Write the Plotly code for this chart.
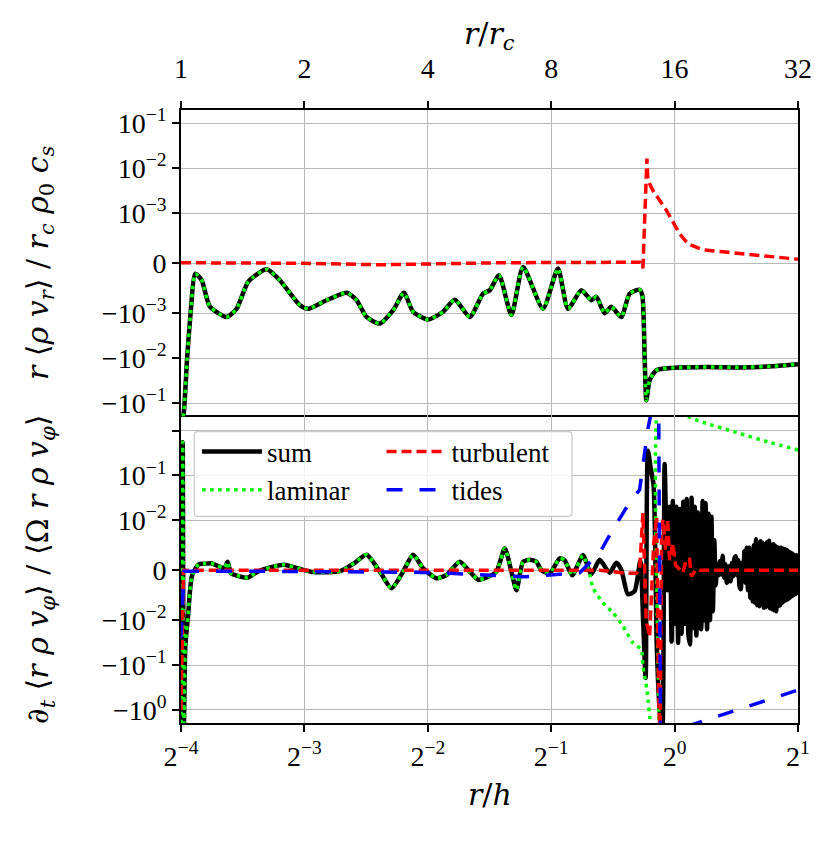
import numpy as np
import plotly.graph_objects as go

# ---- data (x in r/h, y in physical units) ----
# top panel: r <rho v_r> / r_c rho_0 c_s
top_x = [0.0625, 0.06345, 0.06464, 0.06585, 0.06773, 0.0702, 0.07354, 0.08078, 0.08543, 0.09119,
         0.1011, 0.1089, 0.1219, 0.1277, 0.1416, 0.1584, 0.1676, 0.1772, 0.191, 0.2058,
         0.2185, 0.2302, 0.2504, 0.2724, 0.2909, 0.3165, 0.341, 0.354, 0.373, 0.3999,
         0.4269, 0.4775, 0.5194, 0.5494, 0.5923, 0.6265, 0.6443, 0.675, 0.7009, 0.7413,
         0.7766, 0.8216, 0.8342, 0.8451, 0.8532, 0.8691, 0.9024, 0.9905, 1.1947, 1.4402,
         1.7363, 2.0]
top_sum = [-0.3, -0.167, -0.0111, -1.21e-3, -2.1e-4, -3.4e-4, -8.7e-4, -1.21e-3, -9.1e-4, -3.7e-4,
           -1.2e-4, -3.4e-4, -8.4e-4, -9.1e-4, -7.4e-4, -5.9e-4, -7.4e-4, -1.21e-3, -1.7e-3, -9.4e-4,
           -5.9e-4, -9.7e-4, -1.38e-3, -9.7e-4, -7.3e-4, -1.21e-3, -6.1e-4, -5.4e-4, -2.4e-4, -1.1e-3,
           -7.4e-5, -9.1e-4, -1.06e-4, -9.1e-4, -5.4e-4, -7.4e-4, -6.7e-4, -1.0e-3, -8.7e-4, -1.21e-3,
           -6.1e-4, -5.3e-4, -6.4e-4, -9.4e-3, -0.086, -0.031, -0.0185, -0.0164, -0.0156, -0.016,
           -0.0151, -0.0136]
top_turb_x = [0.0625, 0.1219, 0.191, 0.3745, 0.8216, 0.837, 0.856, 0.8608, 0.8853, 0.9545,
              0.9905, 1.0285, 1.0775, 1.1722, 1.3113, 1.5817, 1.9249, 2.0]
top_turb = [1e-5, 0, -3e-5, 1e-5, 2e-5, -1e-4, 0.0164, 5.4e-3, 3.2e-3, 1.17e-3,
            8.3e-4, 5.9e-4, 3.9e-4, 2.7e-4, 2.3e-4, 1.7e-4, 9e-5, 8e-5]

# bottom panel: d_t <r rho v_phi> / <Omega r rho v_phi>
bot_x_early = [0.0625, 0.0631, 0.06349, 0.06403, 0.06501, 0.06648, 0.06903, 0.07123, 0.07396, 0.07679,
               0.07969, 0.08122, 0.08274, 0.08591, 0.09088, 0.09612, 0.1036, 0.1116, 0.1203, 0.1296,
               0.1424, 0.1534, 0.1653, 0.1772, 0.191, 0.2039, 0.2176, 0.2302, 0.2435, 0.2625,
               0.2777, 0.2992, 0.3165, 0.3316, 0.3507, 0.3676, 0.3852, 0.3999, 0.4113, 0.4269,
               0.4431, 0.4601, 0.4732, 0.4958, 0.5245, 0.5393, 0.5626, 0.5978]
bot_early = [-3.0, 0.55, -3.0, -0.038, -9.2e-3, -1.1e-3, 1.2e-3, 1.3e-3, 1.4e-3, 9e-4,
             4e-4, 1.7e-3, -6e-4, -1.1e-3, -1.5e-3, -2.8e-4, 6e-4, 1.1e-3, 4e-4, -2.8e-4,
             -4e-4, -1.4e-4, 1.4e-3, 3.1e-3, -2.8e-4, -3.6e-3, -2.8e-4, 3.1e-3, 4e-4, -1.6e-3,
             -9.4e-4, 1.7e-3, -2.8e-4, -1.9e-3, -1.3e-3, -2.8e-4, 4.4e-3, -2.8e-4, -4e-3, 1.7e-3,
             2.1e-3, 1.7e-3, 0, -6e-4, 2.4e-3, 2e-3, -1e-3, 3e-3]

sum_x_late = [0.6265, 0.6565, 0.6943, 0.7208, 0.7413, 0.7693, 0.7987, 0.8248, 0.8379, 0.8499,
              0.8608, 0.874, 0.8888, 0.9041, 0.9193, 0.9333, 0.9454, 0.9615, 0.9723, 0.9833,
              0.99, 1.00, 1.01, 1.02, 1.03, 1.04, 1.05, 1.06, 1.07, 1.08,
              1.09, 1.10, 1.11, 1.12, 1.13, 1.14, 1.15, 1.16, 1.17, 1.18,
              1.19, 1.20, 1.21, 1.22, 1.23, 1.24, 1.25, 1.26, 1.27, 1.28,
              1.29, 1.30, 1.31, 1.32, 1.33, 1.34, 1.35, 1.36, 1.37, 1.38,
              1.39, 1.40, 1.41, 1.42, 1.43, 1.44, 1.45, 1.46, 1.47, 1.48,
              1.49, 1.50, 1.51, 1.52, 1.53, 1.54, 1.55, 1.56, 1.57, 1.58,
              1.59, 1.60, 1.61, 1.62, 1.63, 1.64, 1.65, 1.66, 1.67, 1.68,
              1.69, 1.70, 1.71, 1.72, 1.73, 1.74, 1.75, 1.76, 1.77, 1.78,
              1.79, 1.80, 1.81, 1.82, 1.83, 1.84, 1.85, 1.86, 1.87, 1.88,
              1.89, 1.90, 1.91, 1.92, 1.93, 1.94, 1.95, 1.96, 1.97, 1.98,
              1.99, 2.00]
sum_late = [-8e-4, 2.1e-3, -5e-4, 1.5e-3, 1e-4, -4.8e-3, -4.2e-3, 1.9e-3, -0.01, -0.193,
            0.355, 0.15, 0.06, -0.03, -1.0, -3.0, 0.18, -0.004, 0.02, -0.03,
            0.027, -0.012, 0.02, -0.032, 0.018, -0.02, 0.026, -0.012, 0.03, -0.02,
            -0.035, 0.032, -0.015, 0.02, -0.022, 0.015, -0.012, -0.016, 0.027, -0.01,
            0.024, -0.016, 0.014, -0.01, 0.012, -0.0082, 0.006, -0.003, 0.0012, -0.001,
            0.0018, -0.0008, 0.0029, -0.0015, 0.0012, -0.0025, -0.002, 0.0008, -0.0022, 0.0015,
            -0.0012, 0.0025, 0.0028, -0.001, 0.002, -0.0032, -0.0038, 0.0015, -0.002, 0.0038,
            -0.0025, 0.0045, -0.004, 0.0045, -0.0055, 0.004, -0.0062, 0.005, -0.0065, 0.0062,
            -0.007, 0.0055, -0.0072, 0.0058, -0.0068, 0.0055, -0.0075, 0.0052, -0.0074, 0.0056,
            -0.007, 0.0059, -0.0076, 0.005, -0.0078, 0.0052, -0.008, 0.0049, -0.0082, 0.0046,
            -0.0072, 0.0045, -0.007, 0.0045, -0.0065, 0.0043, -0.0062, 0.0042, -0.006, 0.004,
            -0.0058, 0.0037, -0.0055, 0.0035, -0.0052, 0.0033, -0.005, 0.003, -0.0048, 0.003,
            -0.0045, -0.002]

lam_x_late = [0.6205, 0.6322, 0.6686, 0.7074, 0.7481, 0.7913, 0.8296, 0.837, 0.856, 0.8774,
              0.91, 0.9193, 1.0, 1.0878, 1.1722, 1.4138, 1.7043, 2.0]
lam_late = [-8e-4, -3.5e-3, -6.5e-3, -8.5e-3, -0.0136, -0.032, -0.045, -0.106, -0.35, -2.5,
            -6.0, 6.0, 3.5, 1.97, 1.53, 0.91, 0.546, 0.37]

turb_x = [0.0625, 0.06338, 0.1219, 0.2136, 0.3745, 0.5243, 0.6565, 0.7626, 0.8079, 0.8216,
          0.837, 0.8522, 0.8691, 0.8888, 0.9041, 0.9141, 0.9219, 0.9296, 0.9365, 0.9507,
          0.9615, 0.9723, 0.9905, 1.0056, 1.0285, 1.0477, 1.0678, 1.0878, 1.0982, 1.1295,
          1.1506, 2.0]
turb = [-1.0, 0, 0, 0, 0, 0, 0, -6e-4, -6e-4, 0,
        0.0145, -0.01, -0.0234, 0.005, 0.012, -0.5, -5.0, 0.008, 0.0103, 0.004,
        0.011, 0.002, 5.4e-3, 1e-3, 3e-4, -5e-4, 2.2e-3, 2.2e-3, -1.2e-3, 2e-4,
        0, 0]

tide_x = [0.0625, 0.06356, 0.09206, 0.1614, 0.2043, 0.2312, 0.2828, 0.354, 0.4309, 0.5243,
          0.5867, 0.6565, 0.7074, 0.7766, 0.8216, 0.8608, 0.8788, 0.8938, 0.9141, 0.9244,
          1.0518, 2.0]
tide = [-0.025, -2e-4, -2e-4, -3e-4, -3e-4, -4e-4, -6e-4, -9e-4, -1.3e-3, -8e-4,
        -5e-4, 3.5e-3, 8.2e-3, 0.025, 0.048, 1.09, 3.0, 6.0, 6.0, -8.0,
        -2.45, -0.36]

# ---- ticks ----
rh_ticks = [0.0625, 0.125, 0.25, 0.5, 1, 2]
rh_labels = ["2<sup>−4</sup>", "2<sup>−3</sup>", "2<sup>−2</sup>", "2<sup>−1</sup>", "2<sup>0</sup>", "2<sup>1</sup>"]
rrc_labels = ["1", "2", "4", "8", "16", "32"]
top_yticks = [1e-1, 1e-2, 1e-3, 0, -1e-3, -1e-2, -1e-1]
top_ylabels = ["10<sup>−1</sup>", "10<sup>−2</sup>", "10<sup>−3</sup>", "0",
               "−10<sup>−3</sup>", "−10<sup>−2</sup>", "−10<sup>−1</sup>"]
bot_yticks = [1, 1e-1, 1e-2, 0, -1e-2, -1e-1, -1]
bot_ylabels = ["", "10<sup>−1</sup>", "10<sup>−2</sup>", "0",
               "−10<sup>−2</sup>", "−10<sup>−1</sup>", "−10<sup>0</sup>"]

TOP_LT = 1e-3
BOT_LT = 1e-2


def symlog(v, linthresh):
    # matplotlib-style symlog (base 10, linscale 1)
    v = np.asarray(v, dtype=float)
    a = np.abs(v)
    lin = 1 / (1 - 1 / 10)
    return np.where(a <= linthresh, v / linthresh * lin,
                    np.sign(v) * (lin + np.log10(np.maximum(a, linthresh) / linthresh)))


FONT = "Liberation Serif, DejaVu Serif, serif"
TFONT = "DejaVu Serif, serif"
BLACK = dict(color="black", width=4.5, shape="spline", smoothing=0.6)
GREEN = dict(color="#00ff00", width=3.5, dash="3.5px,4.5px", shape="spline", smoothing=0.6)
RED = dict(color="#ff0000", width=3.5, dash="10px,5px")
BLUE = dict(color="#0000ff", width=3.5, dash="16px,17px")

fig = go.Figure()

# top panel
fig.add_trace(go.Scatter(x=top_x, y=symlog(top_sum, TOP_LT), mode="lines", line=BLACK,
                         xaxis="x2", yaxis="y", showlegend=False))
fig.add_trace(go.Scatter(x=top_x, y=symlog(top_sum, TOP_LT), mode="lines", line=GREEN,
                         xaxis="x2", yaxis="y", showlegend=False))
fig.add_trace(go.Scatter(x=top_turb_x, y=symlog(top_turb, TOP_LT), mode="lines", line=RED,
                         xaxis="x2", yaxis="y", showlegend=False))

# bottom panel
fig.add_trace(go.Scatter(x=bot_x_early + sum_x_late, y=symlog(bot_early + sum_late, BOT_LT),
                         mode="lines", line=BLACK, name="sum", legend="legend",
                         xaxis="x", yaxis="y2"))
fig.add_trace(go.Scatter(x=bot_x_early + lam_x_late, y=symlog(bot_early + lam_late, BOT_LT),
                         mode="lines", line=GREEN, name="laminar", legend="legend",
                         xaxis="x", yaxis="y2"))
fig.add_trace(go.Scatter(x=turb_x, y=symlog(turb, BOT_LT), mode="lines", line=RED,
                         name="turbulent", legend="legend2", xaxis="x", yaxis="y2"))
fig.add_trace(go.Scatter(x=tide_x, y=symlog(tide, BOT_LT), mode="lines", line=BLUE,
                         name="tides", legend="legend2", xaxis="x", yaxis="y2"))

axis_common = dict(showline=True, linecolor="black", linewidth=1.8,
                   ticks="outside", ticklen=7, tickwidth=1.6, tickcolor="black",
                   showgrid=True, gridcolor="#b8b8b8", gridwidth=1.3, zeroline=False,
                   automargin=False,
                   tickfont=dict(family=FONT, size=28, color="black"))

xr = [np.log10(0.0625), np.log10(2)]
# the page body adds an 8px offset, so margins are trimmed by 8 on the left/top
fig.update_layout(
    width=832, height=841,
    margin=dict(l=173, r=41.5, t=102, b=125.7),
    plot_bgcolor="white", paper_bgcolor="white",
    font=dict(family=FONT, color="black"),
    xaxis=dict(type="log", range=xr, anchor="y2", side="bottom", mirror=True,
               tickvals=rh_ticks, ticktext=rh_labels, **axis_common),
    xaxis2=dict(type="log", range=xr, anchor="y", side="top", matches="x", mirror=False,
                tickvals=rh_ticks, ticktext=rrc_labels, ticklabelstandoff=12, **axis_common),
    yaxis=dict(domain=[0.5, 1], anchor="x2", range=[-3.407, 3.407], mirror=True,
               tickvals=symlog(top_yticks, TOP_LT), ticktext=top_ylabels, **axis_common),
    yaxis2=dict(domain=[0, 0.5], anchor="x", range=[-3.401, 3.424], mirror=True,
                tickvals=symlog(bot_yticks, BOT_LT), ticktext=bot_ylabels, **axis_common),
    legend=dict(x=0.026, y=0.482, xanchor="left", yanchor="top", bgcolor="rgba(0,0,0,0)",
                borderwidth=0, font=dict(family=FONT, size=27), itemwidth=60, tracegroupgap=0),
    legend2=dict(x=0.325, y=0.482, xanchor="left", yanchor="top", bgcolor="rgba(0,0,0,0)",
                 borderwidth=0, font=dict(family=FONT, size=27), itemwidth=60, tracegroupgap=0),
)

# legend frame with rounded corners
L, R, T, B = 0.0215, 0.6337, 0.4755, 0.3369
rx, ry = 0.0065, 0.0065
box = (f"M {L+rx},{B} L {R-rx},{B} Q {R},{B} {R},{B+ry} L {R},{T-ry} Q {R},{T} {R-rx},{T} "
       f"L {L+rx},{T} Q {L},{T} {L},{T-ry} L {L},{B+ry} Q {L},{B} {L+rx},{B} Z")
fig.add_shape(type="path", path=box, xref="paper", yref="paper", layer="above",
              fillcolor="rgba(255,255,255,0.8)", line=dict(color="#cccccc", width=1.3))

ann_font = dict(family=TFONT, size=30, color="black")
fig.add_annotation(text="<i>r</i>/<i>r</i><sub><i>c</i></sub>", x=0.5, y=1.1223, xref="paper", yref="paper",
                   showarrow=False, font=ann_font, xanchor="center", yanchor="middle")
fig.add_annotation(text="<i>r</i>/<i>h</i>", x=0.5, y=-0.1169, xref="paper", yref="paper",
                   showarrow=False, font=ann_font, xanchor="center", yanchor="middle")
fig.add_annotation(text="<i>r</i> ⟨<i>ρ v</i><sub><i>r</i></sub>⟩ / <i>r</i><sub><i>c</i></sub> <i>ρ</i><sub>0</sub> <i>c</i><sub><i>s</i></sub>",
                   x=-0.2283, y=0.7505, xref="paper", yref="paper", textangle=-90,
                   xanchor="center", yanchor="middle", showarrow=False, font=ann_font)
fig.add_annotation(text="∂<sub><i>t</i></sub> ⟨<i>r ρ v</i><sub><i>φ</i></sub>⟩ / ⟨Ω <i>r ρ v</i><sub><i>φ</i></sub>⟩",
                   x=-0.2283, y=0.25, xref="paper", yref="paper", textangle=-90,
                   xanchor="center", yanchor="middle", showarrow=False, font=ann_font)

fig.write_html("out.html")
